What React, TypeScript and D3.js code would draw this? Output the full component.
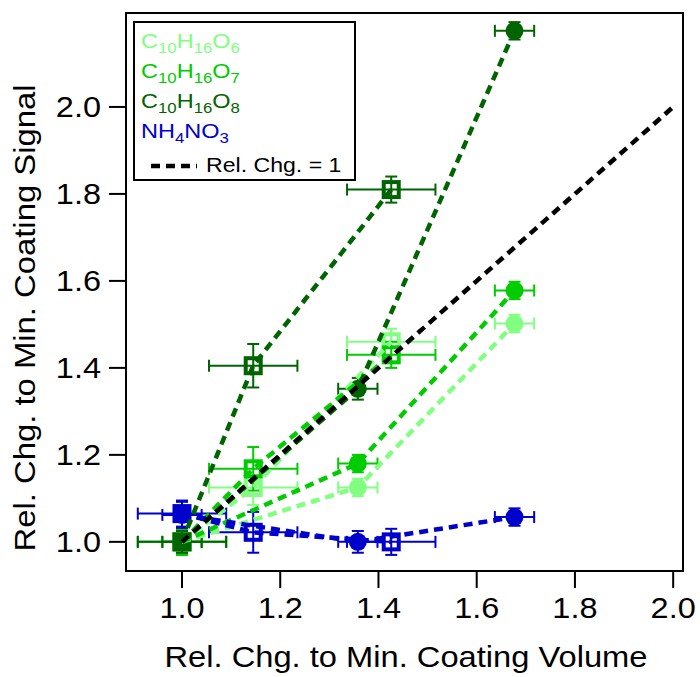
import React from "react";
import * as d3 from "d3";

const xTicks = [1.0, 1.2, 1.4, 1.6, 1.8, 2.0];
const yTicks = [1.0, 1.2, 1.4, 1.6, 1.8, 2.0];

// circle series (x, y, x error, y error)
const circleX = [1.0, 1.358, 1.677];
const circleXErr = [0.04, 0.04, 0.04];
const o6CircleY = [1.0, 1.125, 1.502];
const o6CircleYErr = [0.03, 0.02, 0.02];
const o7CircleY = [1.0, 1.18, 1.578];
const o7CircleYErr = [0.03, 0.02, 0.02];
const o8CircleY = [1.0, 1.352, 2.175];
const o8CircleYErr = [0.025, 0.025, 0.02];
const nhCircleY = [1.062, 1.0, 1.057];
const nhCircleYErr = [0.03, 0.025, 0.02];

// square series
const squareX = [1.0, 1.145, 1.426];
const squareXErr = [0.09, 0.09, 0.09];
const o6SquareY = [1.0, 1.125, 1.46];
const o6SquareYErr = [0.03, 0.04, 0.03];
const o7SquareY = [1.0, 1.168, 1.43];
const o7SquareYErr = [0.03, 0.05, 0.03];
const o8SquareY = [1.0, 1.405, 1.81];
const o8SquareYErr = [0.025, 0.05, 0.03];
const nhSquareY = [1.065, 1.022, 1.0];
const nhSquareYErr = [0.03, 0.047, 0.03];

const refLine = [1.0, 2.0];

const C_O6 = "#80ff80";
const C_O7 = "#00cc00";
const C_O8 = "#006400";
const C_NH = "#0000cc";

const W = 700, H = 677;
const L = 126, R = 683, T = 13, B = 571;
const FONT = "'Liberation Sans', Arial, sans-serif";

const x = d3.scaleLinear().domain([0.886, 2.02]).range([L, R]);
const y = d3.scaleLinear().domain([0.933, 2.216]).range([B, T]);

type Pt = { x: number; y: number; xe: number; ye: number };
const mk = (xs: number[], ys: number[], xe: number[], ye: number[]): Pt[] =>
  xs.map((v, i) => ({ x: v, y: ys[i], xe: xe[i], ye: ye[i] }));

const series = [
  { color: C_O6, circles: mk(circleX, o6CircleY, circleXErr, o6CircleYErr), squares: mk(squareX, o6SquareY, squareXErr, o6SquareYErr) },
  { color: C_O7, circles: mk(circleX, o7CircleY, circleXErr, o7CircleYErr), squares: mk(squareX, o7SquareY, squareXErr, o7SquareYErr) },
  { color: C_NH, circles: mk(circleX, nhCircleY, circleXErr, nhCircleYErr), squares: mk(squareX, nhSquareY, squareXErr, nhSquareYErr) },
  { color: C_O8, circles: mk(circleX, o8CircleY, circleXErr, o8CircleYErr), squares: mk(squareX, o8SquareY, squareXErr, o8SquareYErr) },
];

const line = d3.line<Pt>().x((d) => x(d.x)).y((d) => y(d.y));

function ErrBars({ p, color }: { p: Pt; color: string }) {
  const cx = x(p.x), cy = y(p.y);
  const x0 = x(p.x - p.xe), x1 = x(p.x + p.xe);
  const y0 = y(p.y - p.ye), y1 = y(p.y + p.ye);
  const c = 6;
  return (
    <g stroke={color} strokeWidth={2} fill="none">
      <line x1={x0} x2={x1} y1={cy} y2={cy} />
      <line x1={x0} x2={x0} y1={cy - c} y2={cy + c} />
      <line x1={x1} x2={x1} y1={cy - c} y2={cy + c} />
      <line x1={cx} x2={cx} y1={y0} y2={y1} />
      <line x1={cx - c} x2={cx + c} y1={y0} y2={y0} />
      <line x1={cx - c} x2={cx + c} y1={y1} y2={y1} />
    </g>
  );
}

function Formula({ parts, color, yb }: { parts: [string, string][]; color: string; yb: number }) {
  return (
    <text x={0} y={0} transform={`translate(141,${yb}) scale(1.12,1)`} fill={color} fontFamily={FONT} fontSize={21}>
      {parts.map(([a, s], i) => (
        <React.Fragment key={i}>
          <tspan dy={i === 0 ? 0 : -5} fontSize={21}>{a}</tspan>
          {s ? <tspan dy={5} fontSize={15}>{s}</tspan> : null}
        </React.Fragment>
      ))}
    </text>
  );
}

export default function App() {
  return (
    <svg width={W} height={H} style={{ position: "absolute", left: 0, top: 0, background: "#fff" }}>
      <rect x={0} y={0} width={W} height={H} fill="#fff" />
      {/* markers + error bars */}
      {series.map((s, si) => (
        <g key={si}>
          {s.squares.map((p, i) => (
            <g key={"s" + i}>
              <rect x={x(p.x) - 7.5} y={y(p.y) - 7.5} width={15} height={15} fill="#fff" stroke={s.color} strokeWidth={4} />
              <ErrBars p={p} color={s.color} />
            </g>
          ))}
          {s.circles.map((p, i) => (
            <g key={"c" + i}>
              <ErrBars p={p} color={s.color} />
              <circle cx={x(p.x)} cy={y(p.y)} r={9} fill={s.color} />
            </g>
          ))}
        </g>
      ))}
      {/* lines */}
      {series.map((s, si) => (
        <g key={"l" + si} fill="none" stroke={s.color} strokeWidth={4.5} strokeDasharray="9,6">
          <path d={line(s.circles) || ""} />
          <path d={line(s.squares) || ""} />
        </g>
      ))}
      <line x1={x(refLine[0])} y1={y(refLine[0])} x2={x(refLine[1])} y2={y(refLine[1])} stroke="#000" strokeWidth={4.5} strokeDasharray="9,6" />

      {/* frame */}
      <rect x={L} y={T} width={R - L} height={B - T} fill="none" stroke="#000" strokeWidth={2} />
      {/* ticks */}
      {xTicks.map((t) => (
        <g key={"xt" + t}>
          <line x1={x(t)} x2={x(t)} y1={B} y2={B + 17} stroke="#000" strokeWidth={2} />
          <text x={x(t)} y={618} textAnchor="middle" fontFamily={FONT} fontSize={29} transform={`translate(${x(t)},0) scale(1.12,1) translate(${-x(t)},0)`}>{t.toFixed(1)}</text>
        </g>
      ))}
      {yTicks.map((t) => (
        <g key={"yt" + t}>
          <line x1={L - 17} x2={L} y1={y(t)} y2={y(t)} stroke="#000" strokeWidth={2} />
          <text x={101} y={y(t) + 10.5} textAnchor="end" fontFamily={FONT} fontSize={29} transform={`translate(101,0) scale(1.12,1) translate(-101,0)`}>{t.toFixed(1)}</text>
        </g>
      ))}
      {/* axis labels */}
      <text x={406} y={667} textAnchor="middle" fontFamily={FONT} fontSize={29} textLength={483} lengthAdjust="spacingAndGlyphs">Rel. Chg. to Min. Coating Volume</text>
      <text transform="translate(35,318) rotate(-90)" textAnchor="middle" fontFamily={FONT} fontSize={29} textLength={467} lengthAdjust="spacingAndGlyphs">Rel. Chg. to Min. Coating Signal</text>

      {/* legend */}
      <rect x={134} y={22} width={221} height={158} fill="#fff" stroke="#000" strokeWidth={2} />
      <Formula parts={[["C", "10"], ["H", "16"], ["O", "6"]]} color={C_O6} yb={48} />
      <Formula parts={[["C", "10"], ["H", "16"], ["O", "7"]]} color={C_O7} yb={78} />
      <Formula parts={[["C", "10"], ["H", "16"], ["O", "8"]]} color={C_O8} yb={108} />
      <Formula parts={[["NH", "4"], ["NO", "3"]]} color={C_NH} yb={138} />
      <line x1={151} x2={197} y1={166} y2={166} stroke="#000" strokeWidth={4.5} strokeDasharray="9,6" />
      <text x={0} y={0} transform="translate(206,172) scale(1.1,1)" fontFamily={FONT} fontSize={21} fill="#000">Rel. Chg. = 1</text>
    </svg>
  );
}
